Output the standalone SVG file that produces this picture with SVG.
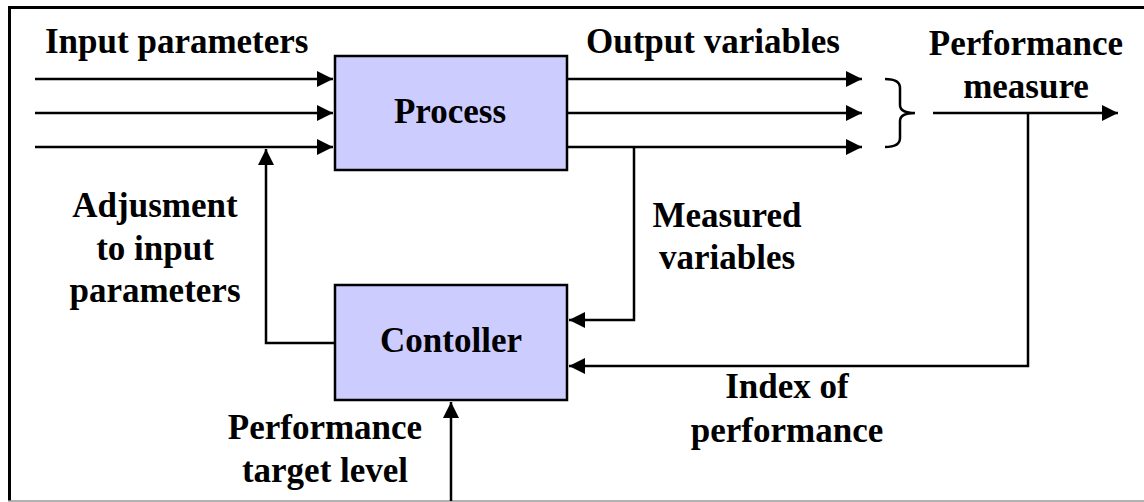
<svg xmlns="http://www.w3.org/2000/svg" width="1144" height="502" viewBox="0 0 1144 502">
<defs>
<marker id="ah" viewBox="0 0 16 16" refX="16" refY="8" markerWidth="16" markerHeight="16" markerUnits="userSpaceOnUse" orient="auto">
<path d="M0,0 L16,8 L0,16 Z" fill="#000"/>
</marker>
<style>
.t{font-family:"Liberation Serif","Times New Roman",serif;font-weight:bold;font-size:35px;fill:#000}
.m{text-anchor:middle}
.ln{stroke:#000;stroke-width:2.5;fill:none}
.box{fill:#CCCCFF;stroke:#000;stroke-width:2.5}
</style>
</defs>
<rect width="1144" height="502" fill="#fff"/>
<g id="frame">
<line x1="9.5" y1="6" x2="9.5" y2="501" stroke="#000" stroke-width="3"/>
<line x1="8" y1="7.5" x2="1144" y2="7.5" stroke="#000" stroke-width="3"/>
<line x1="8" y1="501" x2="1144" y2="501" stroke="#999" stroke-width="1.5"/>
</g>
<g id="connectors">
<line class="ln" x1="35" y1="79" x2="333" y2="79" marker-end="url(#ah)"/>
<line class="ln" x1="35" y1="113" x2="333" y2="113" marker-end="url(#ah)"/>
<line class="ln" x1="35" y1="147" x2="333" y2="147" marker-end="url(#ah)"/>
<line class="ln" x1="567" y1="79" x2="862" y2="79" marker-end="url(#ah)"/>
<line class="ln" x1="567" y1="113" x2="862" y2="113" marker-end="url(#ah)"/>
<line class="ln" x1="567" y1="147" x2="862" y2="147" marker-end="url(#ah)"/>
<path class="ln" d="M885,79 Q900,79 900,88 L900,105 Q900,113 915,113 Q900,113 900,121 L900,138 Q900,147 885,147"/>
<line class="ln" x1="933" y1="113" x2="1118" y2="113" marker-end="url(#ah)"/>
<polyline class="ln" points="1028,113 1028,366 569,366" marker-end="url(#ah)"/>
<polyline class="ln" points="634,147 634,320 569,320" marker-end="url(#ah)"/>
<polyline class="ln" points="335,343 266,343 266,149" marker-end="url(#ah)"/>
<line class="ln" x1="451" y1="501" x2="451" y2="402" marker-end="url(#ah)"/>
</g>
<g id="process">
<rect class="box" x="335" y="56" width="232" height="114"/>
<text class="t m" x="450" y="123">Process</text>
</g>
<g id="controller">
<rect class="box" x="335" y="285" width="232" height="115"/>
<text class="t m" x="451" y="352">Contoller</text>
</g>
<g id="labels">
<text class="t" x="45" y="53">Input parameters</text>
<text class="t" x="586" y="53">Output variables</text>
<text class="t m" x="1026" y="55">Performance</text>
<text class="t m" x="1026" y="98">measure</text>
<text class="t m" x="155" y="217">Adjusment</text>
<text class="t m" x="155" y="260">to input</text>
<text class="t m" x="155" y="302">parameters</text>
<text class="t m" x="727" y="227">Measured</text>
<text class="t m" x="727" y="269">variables</text>
<text class="t m" x="787" y="398">Index of</text>
<text class="t m" x="787" y="442">performance</text>
<text class="t m" x="325" y="439">Performance</text>
<text class="t m" x="325" y="482">target level</text>
</g>
</svg>
